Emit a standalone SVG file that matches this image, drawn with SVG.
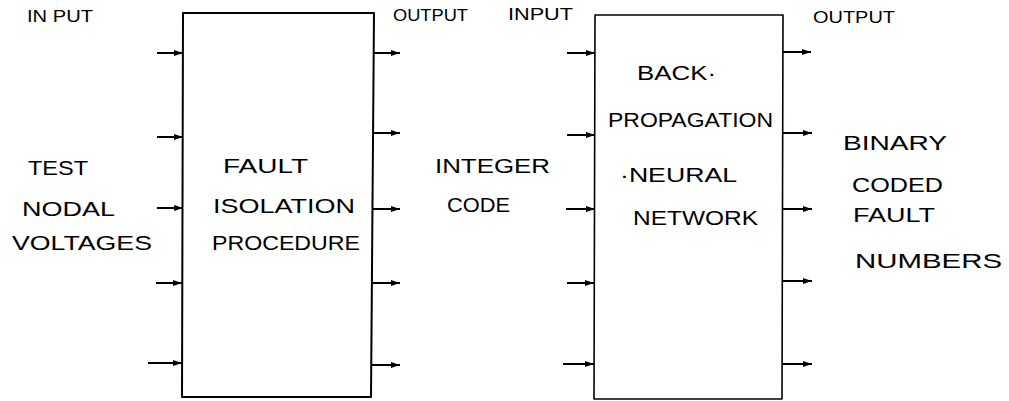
<svg xmlns="http://www.w3.org/2000/svg" width="1009" height="401" viewBox="0 0 1009 401">
<style>
.box{fill:none;stroke:#000;stroke-width:2;stroke-linejoin:round}
.box2{fill:none;stroke:#000;stroke-width:1.6;stroke-linejoin:round}
.wire{stroke:#000;stroke-width:2;fill:none}
.lbl{font-family:"Liberation Sans",Arial,sans-serif;font-size:21px;fill:#000}
.sm{font-family:"Liberation Sans",Arial,sans-serif;font-size:16px;fill:#000}
</style>
<defs>
<marker id="ah" viewBox="0 0 9 7" refX="9" refY="3.5" markerWidth="9" markerHeight="7" markerUnits="userSpaceOnUse" orient="auto">
<path d="M0,0.5 L9,3.5 L0,6.5 Z" fill="#000"/>
</marker>
</defs>
<rect width="1009" height="401" fill="#fff"/>
<g id="io-labels">
<text class="sm" x="27" y="22" textLength="66" lengthAdjust="spacingAndGlyphs">IN PUT</text>
<text class="sm" x="393" y="21" textLength="75" lengthAdjust="spacingAndGlyphs">OUTPUT</text>
<text class="sm" x="508" y="20" textLength="65" lengthAdjust="spacingAndGlyphs">INPUT</text>
<text class="sm" x="813" y="23" textLength="82" lengthAdjust="spacingAndGlyphs">OUTPUT</text>
</g>
<g id="test-nodal-voltages">
<text class="lbl" x="28" y="175" textLength="60" lengthAdjust="spacingAndGlyphs">TEST</text>
<text class="lbl" x="22" y="216" textLength="93" lengthAdjust="spacingAndGlyphs">NODAL</text>
<text class="lbl" x="12" y="250" textLength="140" lengthAdjust="spacingAndGlyphs">VOLTAGES</text>
</g>
<g id="fault-isolation-procedure">
<path class="box" d="M183,13 L374,13 L371,397 L182,397 Z"/>
<text class="lbl" x="223" y="173" textLength="85" lengthAdjust="spacingAndGlyphs">FAULT</text>
<text class="lbl" x="213" y="213" textLength="142" lengthAdjust="spacingAndGlyphs">ISOLATION</text>
<text class="lbl" x="212" y="250" textLength="148" lengthAdjust="spacingAndGlyphs">PROCEDURE</text>
</g>
<g id="integer-code">
<text class="lbl" x="435" y="173" textLength="115" lengthAdjust="spacingAndGlyphs">INTEGER</text>
<text class="lbl" x="447" y="212" textLength="63" lengthAdjust="spacingAndGlyphs">CODE</text>
</g>
<g id="backprop-neural-network">
<path class="box2" d="M595,15 L783,15 L782,399 L594,399 Z"/>
<text class="lbl" x="637" y="80" textLength="79" lengthAdjust="spacingAndGlyphs">BACK·</text>
<text class="lbl" x="608" y="127" textLength="165" lengthAdjust="spacingAndGlyphs">PROPAGATION</text>
<text class="lbl" x="620" y="182" textLength="117" lengthAdjust="spacingAndGlyphs">·NEURAL</text>
<text class="lbl" x="633" y="225" textLength="125" lengthAdjust="spacingAndGlyphs">NETWORK</text>
</g>
<g id="binary-coded-fault-numbers">
<text class="lbl" x="843" y="150" textLength="104" lengthAdjust="spacingAndGlyphs">BINARY</text>
<text class="lbl" x="852" y="192" textLength="91" lengthAdjust="spacingAndGlyphs">CODED</text>
<text class="lbl" x="853" y="222" textLength="82" lengthAdjust="spacingAndGlyphs">FAULT</text>
<text class="lbl" x="855" y="268" textLength="147" lengthAdjust="spacingAndGlyphs">NUMBERS</text>
</g>
<g id="connectors">
<line class="wire" x1="157" y1="53" x2="183" y2="53" marker-end="url(#ah)"/>
<line class="wire" x1="157" y1="137" x2="183" y2="137" marker-end="url(#ah)"/>
<line class="wire" x1="157" y1="208" x2="183" y2="208" marker-end="url(#ah)"/>
<line class="wire" x1="156" y1="283" x2="182" y2="283" marker-end="url(#ah)"/>
<line class="wire" x1="148" y1="363" x2="182" y2="363" marker-end="url(#ah)"/>
<line class="wire" x1="374" y1="53" x2="400" y2="53" marker-end="url(#ah)"/>
<line class="wire" x1="374" y1="133" x2="400" y2="133" marker-end="url(#ah)"/>
<line class="wire" x1="373" y1="209" x2="400" y2="209" marker-end="url(#ah)"/>
<line class="wire" x1="372" y1="283" x2="400" y2="283" marker-end="url(#ah)"/>
<line class="wire" x1="371" y1="365" x2="400" y2="365" marker-end="url(#ah)"/>
<line class="wire" x1="567" y1="53" x2="595" y2="53" marker-end="url(#ah)"/>
<line class="wire" x1="567" y1="135" x2="595" y2="135" marker-end="url(#ah)"/>
<line class="wire" x1="566" y1="209" x2="595" y2="209" marker-end="url(#ah)"/>
<line class="wire" x1="567" y1="283" x2="594" y2="283" marker-end="url(#ah)"/>
<line class="wire" x1="563" y1="364" x2="594" y2="364" marker-end="url(#ah)"/>
<line class="wire" x1="783" y1="52" x2="811" y2="52" marker-end="url(#ah)"/>
<line class="wire" x1="783" y1="133" x2="812" y2="133" marker-end="url(#ah)"/>
<line class="wire" x1="783" y1="209" x2="812" y2="209" marker-end="url(#ah)"/>
<line class="wire" x1="782" y1="281" x2="812" y2="281" marker-end="url(#ah)"/>
<line class="wire" x1="782" y1="364" x2="812" y2="364" marker-end="url(#ah)"/>
</g>
</svg>
